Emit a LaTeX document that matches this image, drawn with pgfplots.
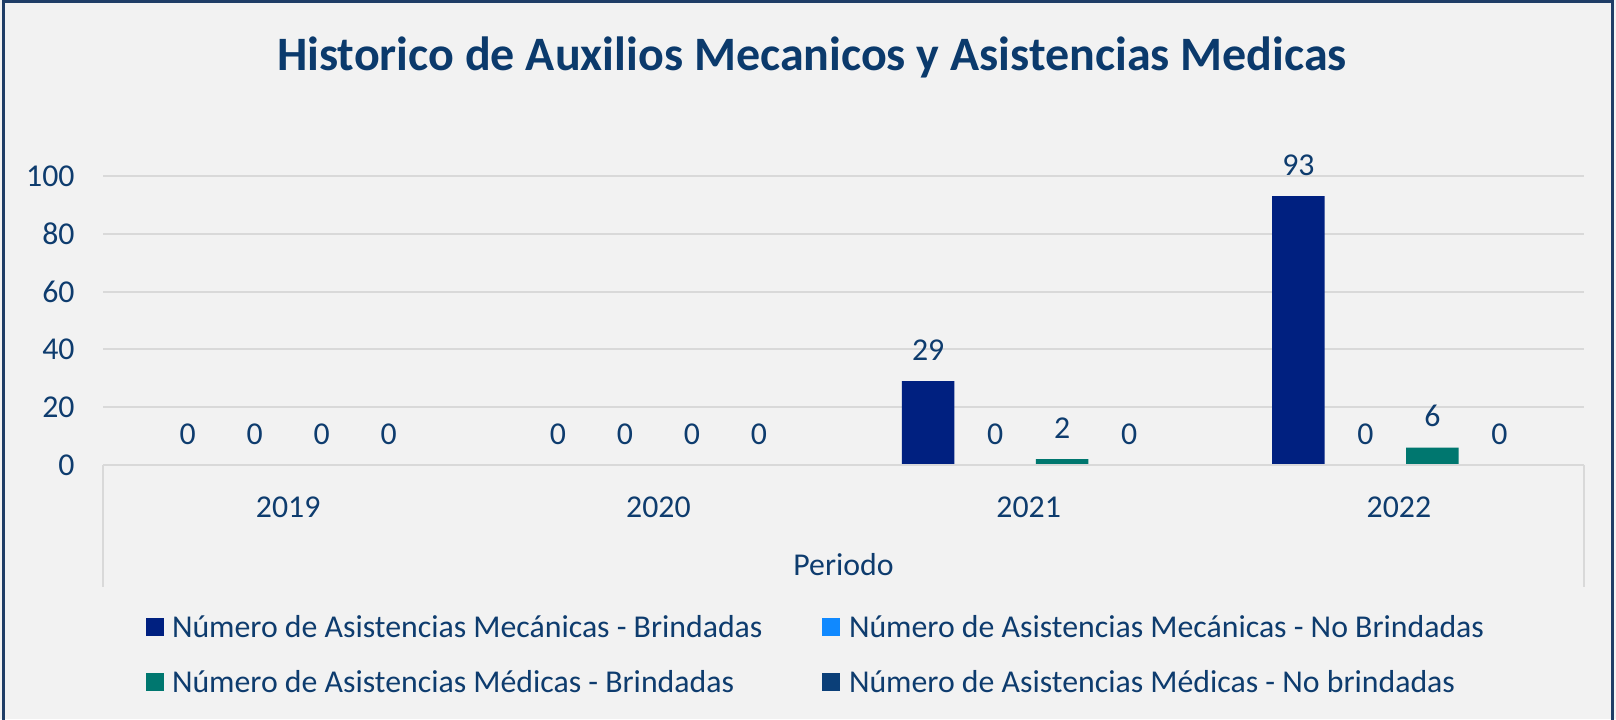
\documentclass[border=0pt]{standalone}
\usepackage{pgfplots}
\pgfplotsset{compat=1.18}
\usepackage{fontspec}
\setmainfont{Carlito}
\definecolor{txt}{HTML}{0E3C6E}
\definecolor{ttl}{HTML}{0B3A6C}
\definecolor{bg}{HTML}{F2F2F2}
\definecolor{bordc}{HTML}{1F3D66}
\definecolor{gridc}{HTML}{D9D9D9}
\definecolor{sA}{HTML}{002080}
\definecolor{sB}{HTML}{1089FF}
\definecolor{sC}{HTML}{00776F}
\definecolor{sD}{HTML}{0B3F78}
\pgfplotsset{/pgf/number format/assume math mode=true}
\newcommand{\lf}{\fontsize{15.9}{19}\selectfont}
\begin{document}
\begin{tikzpicture}
\useasboundingbox (0,0) rectangle (808pt,359.5pt);
\fill[bg] (0,0) rectangle (808pt,359.5pt);
\draw[bordc, line width=1.5pt] (1.75pt,-5pt) -- (1.75pt,358.5pt) -- (806.25pt,358.5pt) -- (806.25pt,-5pt);
\node[anchor=base, inner sep=0pt, font=\fontsize{24}{29}\selectfont\bfseries, text=ttl] at (406pt,324pt) {Historico de Auxilios Mecanicos y Asistencias Medicas};
\node[anchor=base, inner sep=0pt, font=\lf, text=txt] at (421.75pt,72pt) {Periodo};
\begin{axis}[
  at={(51.5pt,127pt)}, anchor=south west,
  scale only axis, width=740.5pt, height=144.5pt,
  xmin=-0.5, xmax=3.5, ymin=0, ymax=100,
  ybar=7.2pt, bar width=26.3pt,
  xtick={0,1,2,3}, xticklabels={2019,2020,2021,2022},
  ytick={0,20,40,60,80,100},
  major tick length=0pt,
  axis line style={draw=none},
  ymajorgrids, grid style={color=gridc, line width=1pt},
  tick label style={font=\lf, text=txt},
  yticklabel style={anchor=east, inner sep=0pt, xshift=-14pt},
  xticklabel style={anchor=base, inner sep=0pt, yshift=-26pt},
  clip=false,
  nodes near coords,
  every node near coord/.append style={font=\lf, text=txt, anchor=base, inner sep=0pt, yshift=10.5pt},
  legend columns=2,
  legend image code/.code={\fill[#1] (0pt,-4.5pt) rectangle (9pt,4.5pt);},
  legend style={draw=none, fill=none, inner sep=0pt, outer sep=0pt,
    at={(0.02903,-0.5253)}, anchor=north west,
    column sep=0pt, row sep=17.3pt, font=\lf, text=txt,
    cells={anchor=west},
    nodes={inner sep=0pt, text height=10.2pt, text depth=0pt}},
]
\addplot[fill=sA, draw=none] coordinates {(0,0) (1,0) (2,29) (3,93)};
\addlegendentry{\hspace*{4pt}\makebox[325pt][l]{Número de Asistencias Mecánicas - Brindadas}}
\addplot[fill=sB, draw=none] coordinates {(0,0) (1,0) (2,0) (3,0)};
\addlegendentry{\hspace*{4.5pt}Número de Asistencias Mecánicas - No Brindadas}
\addplot[fill=sC, draw=none] coordinates {(0,0) (1,0) (2,2) (3,6)};
\addlegendentry{\hspace*{4pt}\makebox[325pt][l]{Número de Asistencias Médicas - Brindadas}}
\addplot[fill=sD, draw=none] coordinates {(0,0) (1,0) (2,0) (3,0)};
\addlegendentry{\hspace*{4.5pt}Número de Asistencias Médicas - No brindadas}
\draw[gridc, line width=1pt] (rel axis cs:0,0) -- (rel axis cs:1,0);
\draw[gridc, line width=0.7pt] (rel axis cs:0,0) -- (rel axis cs:0,-0.4221);
\draw[gridc, line width=0.7pt] (rel axis cs:1,0) -- (rel axis cs:1,-0.4221);
\end{axis}
\end{tikzpicture}
\end{document}
